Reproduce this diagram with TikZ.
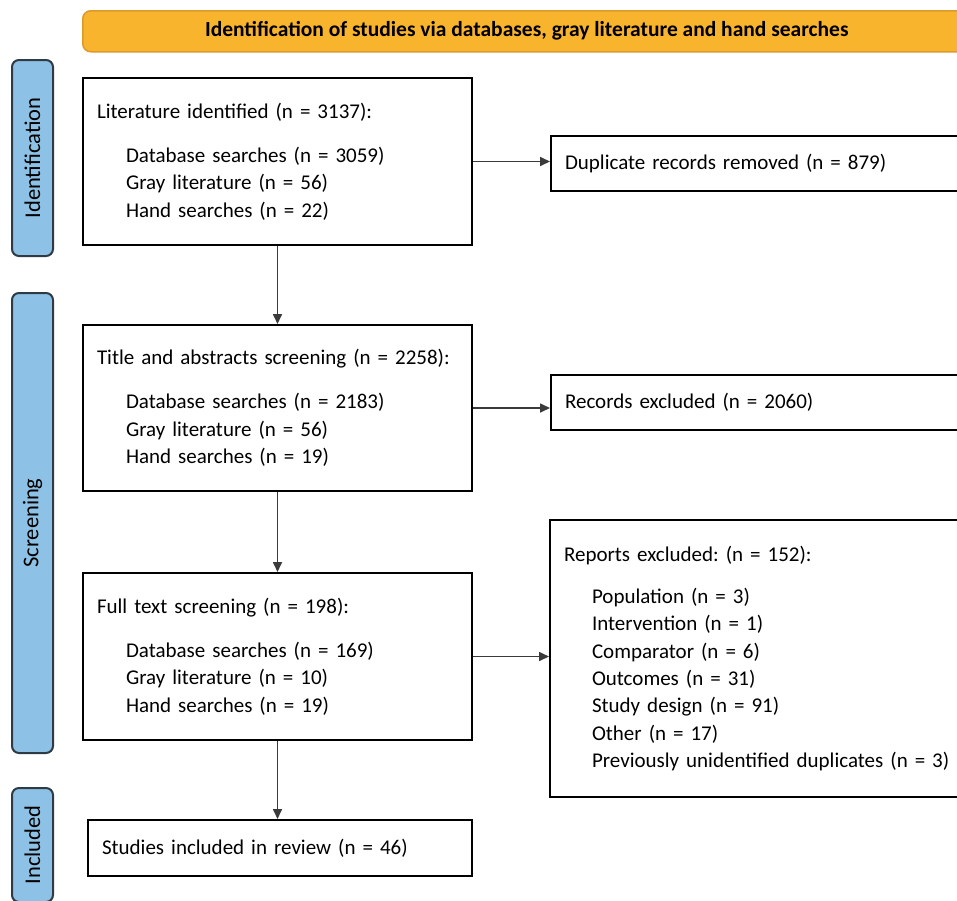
\documentclass[tikz,border=0pt]{standalone}
\usepackage{fontspec}
\setmainfont{Carlito}
\usetikzlibrary{arrows.meta}
\definecolor{bannerfill}{HTML}{F9B42D}
\definecolor{bannerdraw}{HTML}{DC9A2C}
\definecolor{sidefill}{HTML}{8DC1E5}
\definecolor{sidedraw}{HTML}{2E3A44}
\definecolor{arrowcol}{HTML}{3A3A3A}
\newcommand\itemind{\hspace*{29pt}}
\frenchspacing
\begin{document}
\begin{tikzpicture}[x=1pt,y=-1pt,
  every node/.style={font=\fontsize{21}{27.3}\selectfont},
  box/.style={draw=black, line width=2pt, anchor=north west, inner xsep=14pt, inner ysep=0pt, align=left},
  side/.style={draw=sidedraw, fill=sidefill, line width=2pt, rounded corners=7pt, rotate=90, minimum height=41pt, inner sep=0pt, font=\fontsize{22.5}{27}\selectfont},
  banner/.style={draw=bannerdraw, fill=bannerfill, line width=1.5pt, rounded corners=8pt, anchor=north west, minimum width=888pt, minimum height=41pt, inner sep=0pt, font=\fontsize{21.5}{25}\selectfont\bfseries},
  conn/.style={draw=arrowcol, line width=1.6pt, -{Triangle[length=10pt,width=9pt]}}]
\clip (0,0) rectangle (957,900);
\fill[white] (0,0) rectangle (957,900);
% banner
\node[banner] (ban) at (82,10) {Identification of studies via databases, gray literature and hand searches};
% side labels
\node[side, minimum width=196pt] (sid) at (32.5,158) {Identification};
\node[side, minimum width=460pt] (sscr) at (32.5,523) {Screening};
\node[side, minimum width=114pt] (sinc) at (32.5,845) {Included};
% main boxes
\node[box, text width=361pt, minimum height=167pt] (b1) at (82,77)
  {Literature identified (n = 3137):\\[16.7pt]\itemind Database searches (n = 3059)\\\itemind Gray literature (n = 56)\\\itemind Hand searches (n = 22)};
\node[box, text width=361pt, minimum height=166pt] (b2) at (82,324)
  {Title and abstracts screening (n = 2258):\\[16.7pt]\itemind Database searches (n = 2183)\\\itemind Gray literature (n = 56)\\\itemind Hand searches (n = 19)};
\node[box, text width=361pt, minimum height=167pt] (b3) at (82,572)
  {Full text screening (n = 198):\\[16.7pt]\itemind Database searches (n = 169)\\\itemind Gray literature (n = 10)\\\itemind Hand searches (n = 19)};
\node[box, text width=356pt, minimum height=56pt] (inc) at (87,819)
  {Studies included in review (n = 46)};
% right boxes
\node[box, text width=392pt, minimum height=55pt] (dup) at (550,135)
  {Duplicate records removed (n = 879)};
\node[box, text width=392pt, minimum height=55pt] (rec) at (550,374)
  {Records excluded (n = 2060)};
\node[box, text width=392pt, minimum height=277pt] (rep) at (549,519)
  {Reports excluded: (n = 152):\\[14.7pt]\hspace*{28pt}Population (n = 3)\\\hspace*{28pt}Intervention (n = 1)\\\hspace*{28pt}Comparator (n = 6)\\\hspace*{28pt}Outcomes (n = 31)\\\hspace*{28pt}Study design (n = 91)\\\hspace*{28pt}Other (n = 17)\\\hspace*{28pt}Previously unidentified duplicates (n = 3)};
% connectors
\draw[conn] (b1.south) -- (b2.north);
\draw[conn] (b2.south) -- (b3.north);
\draw[conn] (b3.south) -- (b3.south |- inc.north);
\draw[conn] (b1.east) -- (b1.east -| dup.west);
\draw[conn] (b2.east) -- (b2.east -| rec.west);
\draw[conn] (b3.east) -- (b3.east -| rep.west);
\end{tikzpicture}
\end{document}
